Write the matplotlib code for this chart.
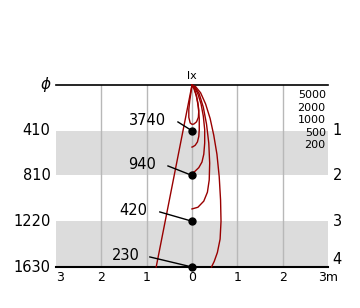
import numpy as np
import matplotlib
matplotlib.use("Agg")
import matplotlib.pyplot as plt

# depth marks (mm) and the illuminance read at x=0 for each one
depths = [410, 810, 1220, 1630]
lux_at_depth = [3740, 940, 420, 230]
row_labels = ["1", "2", "3", "4"]

# horizontal distance ticks (m), labels shown without sign
x_ticks = [-3, -2, -1, 0, 1, 2, 3]
x_tick_labels = ["3", "2", "1", "0", "1", "2", "3m"]

# isolux levels, listed in the legend
levels = [5000, 2000, 1000, 500, 200]

# contour traces: x in m, depth in mm
c5000_x = [0, 0.04, 0.09, 0.13, 0.15, 0.14, 0.10, 0.04, 0.0, -0.04, -0.07, -0.07, -0.05, -0.02, 0]
c5000_d = [0, 30, 90, 160, 230, 290, 330, 350, 352, 340, 290, 220, 140, 60, 0]
c2000_x = [0, 0.05, 0.10, 0.14, 0.16, 0.16, 0.15, 0.12, 0.07, 0.02, 0]
c2000_d = [0, 30, 100, 200, 300, 400, 460, 510, 540, 553, 556]
c1000_x = [0, 0.06, 0.13, 0.20, 0.25, 0.28, 0.28, 0.26, 0.22, 0.15, 0.06, 0]
c1000_d = [0, 25, 80, 170, 280, 400, 520, 620, 690, 740, 775, 787]
c500_x = [0, 0.07, 0.16, 0.25, 0.32, 0.37, 0.39, 0.38, 0.34, 0.26, 0.13, 0]
c500_d = [0, 20, 80, 200, 350, 520, 700, 850, 960, 1040, 1095, 1110]
c200_x = [-0.79, -0.40, 0, 0.08, 0.19, 0.30, 0.40, 0.48, 0.55, 0.60, 0.63, 0.64, 0.62, 0.56, 0.49, 0.43]
c200_d = [1630, 825, 0, 15, 70, 170, 300, 450, 620, 820, 1030, 1220, 1380, 1500, 1580, 1630]

# leader line start points (x m, depth mm) and label right edges
leader_x = [-0.31, -0.53, -0.71, -0.93]
leader_d = [331, 725, 1137, 1540]
label_x = [-0.58, -0.79, -0.99, -1.15]

fig = plt.figure(figsize=(3.6, 3.08), dpi=100)
ax = fig.add_axes([56 / 360, (308 - 267) / 308, 272 / 360, 182 / 308])
ax.set_xlim(-3, 3)
ax.set_ylim(1630, 0)
ax.axis("off")

# gray bands between the depth marks
ax.axhspan(depths[0], depths[1], color="#dcdcdc", lw=0, zorder=0)
ax.axhspan(depths[2], depths[3], color="#dcdcdc", lw=0, zorder=0)

for xt in x_ticks[1:-1]:
    ax.plot([xt, xt], [0, 1630], color="#b8b8b8", lw=1, zorder=1)

ax.plot([-3, 3], [0, 0], color="black", lw=1.2, zorder=2, clip_on=False)
ax.plot([-3, 3], [1630, 1630], color="black", lw=1.5, zorder=2, clip_on=False)

red = "#990000"
for cx, cd in [(c5000_x, c5000_d), (c2000_x, c2000_d), (c1000_x, c1000_d),
               (c500_x, c500_d), (c200_x, c200_d)]:
    ax.plot(cx, cd, color=red, lw=1.0, zorder=3, clip_on=False)

for lx_, ld, dep, val, tx in zip(leader_x, leader_d, depths, lux_at_depth, label_x):
    ax.plot([lx_, 0], [ld, dep], color="black", lw=1, zorder=4, clip_on=False)
    ax.plot([0], [dep], "o", color="black", ms=5, zorder=5, clip_on=False)
    ax.text(tx, ld - 10, str(val), ha="right", va="center", fontsize=10.5)

# left depth labels
ax.text(-3.12, 0, "ϕ", ha="right", va="center", fontsize=11, style="italic")
for dep in depths:
    ax.text(-3.12, dep, str(dep), ha="right", va="center", fontsize=10.5)

# right row numbers
for dep, rl in zip(depths, row_labels):
    off = -70 if rl == "4" else 0
    ax.text(3.1, dep + off, rl, ha="left", va="center", fontsize=10.5)

# bottom distance labels
for xt, tl in zip(x_ticks, x_tick_labels):
    xx = xt + 0.08 if xt == -3 else xt
    ax.text(xx, 1720, tl, ha="center", va="center", fontsize=9)

ax.text(0, -80, "lx", ha="center", va="center", fontsize=8)

# isolux legend
for i, lv in enumerate(levels):
    ax.text(2.95, 90 + i * 112, str(lv), ha="right", va="center", fontsize=8)

fig.savefig("out.png", dpi=100)
